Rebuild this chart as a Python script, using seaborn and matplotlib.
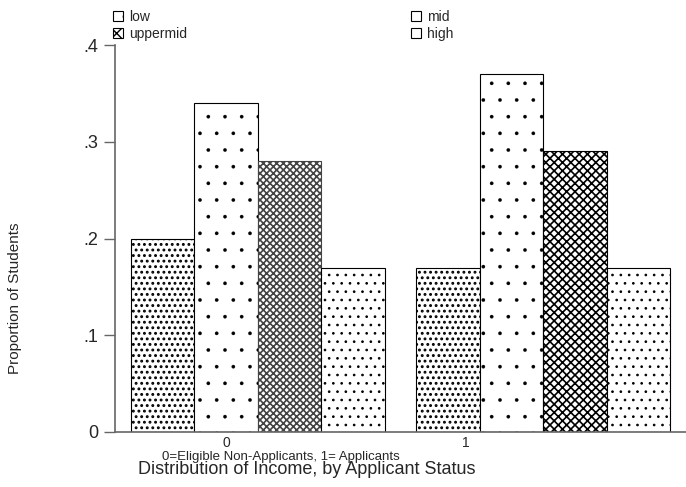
import seaborn as sns
import matplotlib.pyplot as plt
import pandas as pd
from matplotlib.patches import Patch

# proportion of students by income band, for status 0 and 1
status = ['0', '1']
incomes = ['low', 'mid', 'uppermid', 'high']
low = [0.20, 0.17]
mid = [0.34, 0.37]
uppermid = [0.28, 0.29]
high = [0.17, 0.17]
yticks = [0, 0.1, 0.2, 0.3, 0.4]
ytick_labels = ['0', '.1', '.2', '.3', '.4']

df = pd.DataFrame({
    'status': status * 4,
    'income': [k for k in incomes for _ in status],
    'prop': low + mid + uppermid + high,
})

sns.set_style('white')
plt.rcParams['font.family'] = ['Liberation Sans', 'DejaVu Sans']
plt.rcParams['hatch.linewidth'] = 1.0

fig = plt.figure(figsize=(6.86, 4.87), dpi=100)
ax = fig.add_axes([115/686, 55/487, 571/686, 387/487])

sns.barplot(data=df, x='status', y='prop', hue='income', order=status,
            hue_order=incomes, width=0.89, dodge=True, errorbar=None,
            legend=False, ax=ax)

# stata-like fill patterns, one per income band (uppermid differs per group)
hatches = {'low': ['...', '...'], 'mid': ['.', '.'],
           'uppermid': ['xxxxx', 'xxxx'], 'high': ['..', '..']}
edges = {'low': ['black', 'black'], 'mid': ['black', 'black'],
         'uppermid': ['#444444', 'black'], 'high': ['black', 'black']}
hlw = {'low': 1.3, 'mid': 0.2, 'uppermid': 1.2, 'high': 0.7}
for cont, inc in zip(ax.containers, incomes):
    for j, bar in enumerate(cont):
        bar.set_facecolor('white')
        bar.set_edgecolor(edges[inc][j])
        bar.set_hatch(hatches[inc][j])
        bar.set_linewidth(0.8)
        if hasattr(bar, 'set_hatch_linewidth'):
            bar.set_hatch_linewidth(hlw[inc])

ax.set_xlim(-0.5, 1.5)
ax.set_ylim(0, 0.4)
ax.set_yticks(yticks)
ax.set_yticklabels(ytick_labels, fontsize=13)
ax.set_xticks([-0.11, 0.73])
ax.set_xticklabels(status, fontsize=10)
ax.tick_params(axis='y', direction='out', length=8, width=1, color='#666666', pad=4, left=True)
ax.tick_params(axis='x', length=0, pad=3)
ax.set_xlabel('')
ax.set_ylabel('')
for s in ['top', 'right']:
    ax.spines[s].set_visible(False)
for s in ['left', 'bottom']:
    ax.spines[s].set_color('#666666')
    ax.spines[s].set_linewidth(1.2)

fig.text(15/686, 1 - 298/487, 'Proportion of Students', rotation=90,
         ha='center', va='center', fontsize=11)
fig.text(281/686, 1 - 457/487, '0=Eligible Non-Applicants, 1= Applicants',
         ha='center', va='center', fontsize=9.5)
fig.text(307/686, 1 - 470/487, 'Distribution of Income, by Applicant Status',
         ha='center', va='center', fontsize=13)

def handle(inc):
    h = {'low': '.', 'mid': '', 'uppermid': 'xx', 'high': ''}[inc]
    return Patch(facecolor='white', edgecolor='black', hatch=h, linewidth=0.8)

leg_kw = dict(loc='upper left', frameon=False, fontsize=10, handlelength=0.75,
              handleheight=0.75, handletextpad=0.45, labelspacing=0.25,
              borderpad=0.2)
leg1 = fig.legend([handle('low'), handle('uppermid')], ['low', 'uppermid'],
                  bbox_to_anchor=(103/686, 1.0), **leg_kw)
leg2 = fig.legend([handle('mid'), handle('high')], ['mid', 'high'],
                  bbox_to_anchor=(401/686, 1.0), **leg_kw)

plt.savefig('out.png', dpi=100)
